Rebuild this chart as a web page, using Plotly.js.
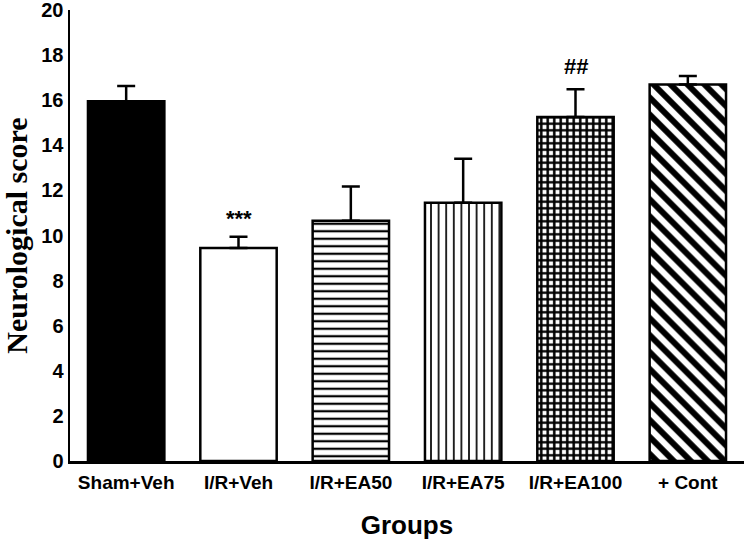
<!DOCTYPE html>
<html>
<head>
<meta charset="utf-8">
<script src="https://cdn.plot.ly/plotly-3.0.1.min.js"></script>
<style>html,body{margin:0;padding:0;background:#fff;}#chart{width:744px;height:551px;}</style>
</head>
<body>
<div id="chart"></div>
<script>
const groups = ["Sham+Veh", "I/R+Veh", "I/R+EA50", "I/R+EA75", "I/R+EA100", "+ Cont"];
const means = [15.95, 9.45, 10.65, 11.45, 15.25, 16.7];
const sem = [0.68, 0.5, 1.52, 1.95, 1.24, 0.37];
const yTicks = [0, 2, 4, 6, 8, 10, 12, 14, 16, 18, 20];
const markLabels = ["", "***", "", "", "##", ""];
const markHeights = [null, 10.75, null, null, 17.5, null];

const fillColors = ["#000000", "#ffffff", "#ffffff", "#ffffff", "#ffffff", "#ffffff"];
const patShapes = ["", "", "-", "|", "+", "\\"];
const patSizes = [8, 8, 7.5, 7.6, 6.5, 12];
const patSolid = [0.3, 0.3, 0.3, 0.22, 0.62, 0.5];

const traces = groups.map((g, i) => {
  const m = {
    color: fillColors[i],
    line: {color: "#000", width: 2.5}
  };
  if (patShapes[i]) {
    m.pattern = {
      shape: patShapes[i],
      fgcolor: "#000000",
      fgopacity: 1,
      bgcolor: "#ffffff",
      size: patSizes[i],
      solidity: patSolid[i],
      fillmode: "overlay"
    };
  }
  return {
    type: "bar",
    x: [g],
    y: [means[i]],
    width: 0.68,
    marker: m,
    error_y: {
      type: "data",
      symmetric: false,
      array: [sem[i]],
      arrayminus: [0],
      color: "#000",
      thickness: 2.5,
      width: 9
    },
    hoverinfo: "skip"
  };
});

const annotations = groups.map((g, i) => markLabels[i] ? {
  x: g, y: markHeights[i], xref: "x", yref: "y",
  text: "<b>" + markLabels[i] + "</b>", showarrow: false,
  font: {family: "Liberation Sans, Arial, sans-serif", size: 22, color: "#000"}
} : null).filter(a => a);

const layout = {
  width: 744, height: 551,
  margin: {l: 70, r: 0, t: 10, b: 90},
  paper_bgcolor: "#fff", plot_bgcolor: "#fff",
  showlegend: false,
  barmode: "overlay",
  xaxis: {
    type: "category",
    categoryarray: groups, categoryorder: "array",
    range: [-0.5, 5.5],
    showline: true, linecolor: "#000", linewidth: 2.5,
    ticks: "outside", ticklen: 3, tickcolor: "rgba(0,0,0,0)",
    showgrid: false, zeroline: false,
    tickfont: {family: "Liberation Sans, Arial, sans-serif", size: 19, color: "#000", weight: "bold"},
    title: {text: "Groups", standoff: 24,
      font: {family: "Liberation Sans, Arial, sans-serif", size: 26, color: "#000", weight: "bold"}}
  },
  yaxis: {
    range: [0, 20],
    tickvals: yTicks,
    ticklabeloverflow: "allow",
    showline: true, linecolor: "#000", linewidth: 2.5,
    ticks: "", showgrid: false, zeroline: false,
    tickfont: {family: "Liberation Sans, Arial, sans-serif", size: 20, color: "#000", weight: "bold"},
    title: {text: "Neurological score", standoff: 6,
      font: {family: "Liberation Serif, Times New Roman, serif", size: 30, color: "#000", weight: "bold"}}
  },
  annotations: annotations
};

Plotly.newPlot("chart", traces, layout, {displayModeBar: false, staticPlot: true});
</script>
</body>
</html>
